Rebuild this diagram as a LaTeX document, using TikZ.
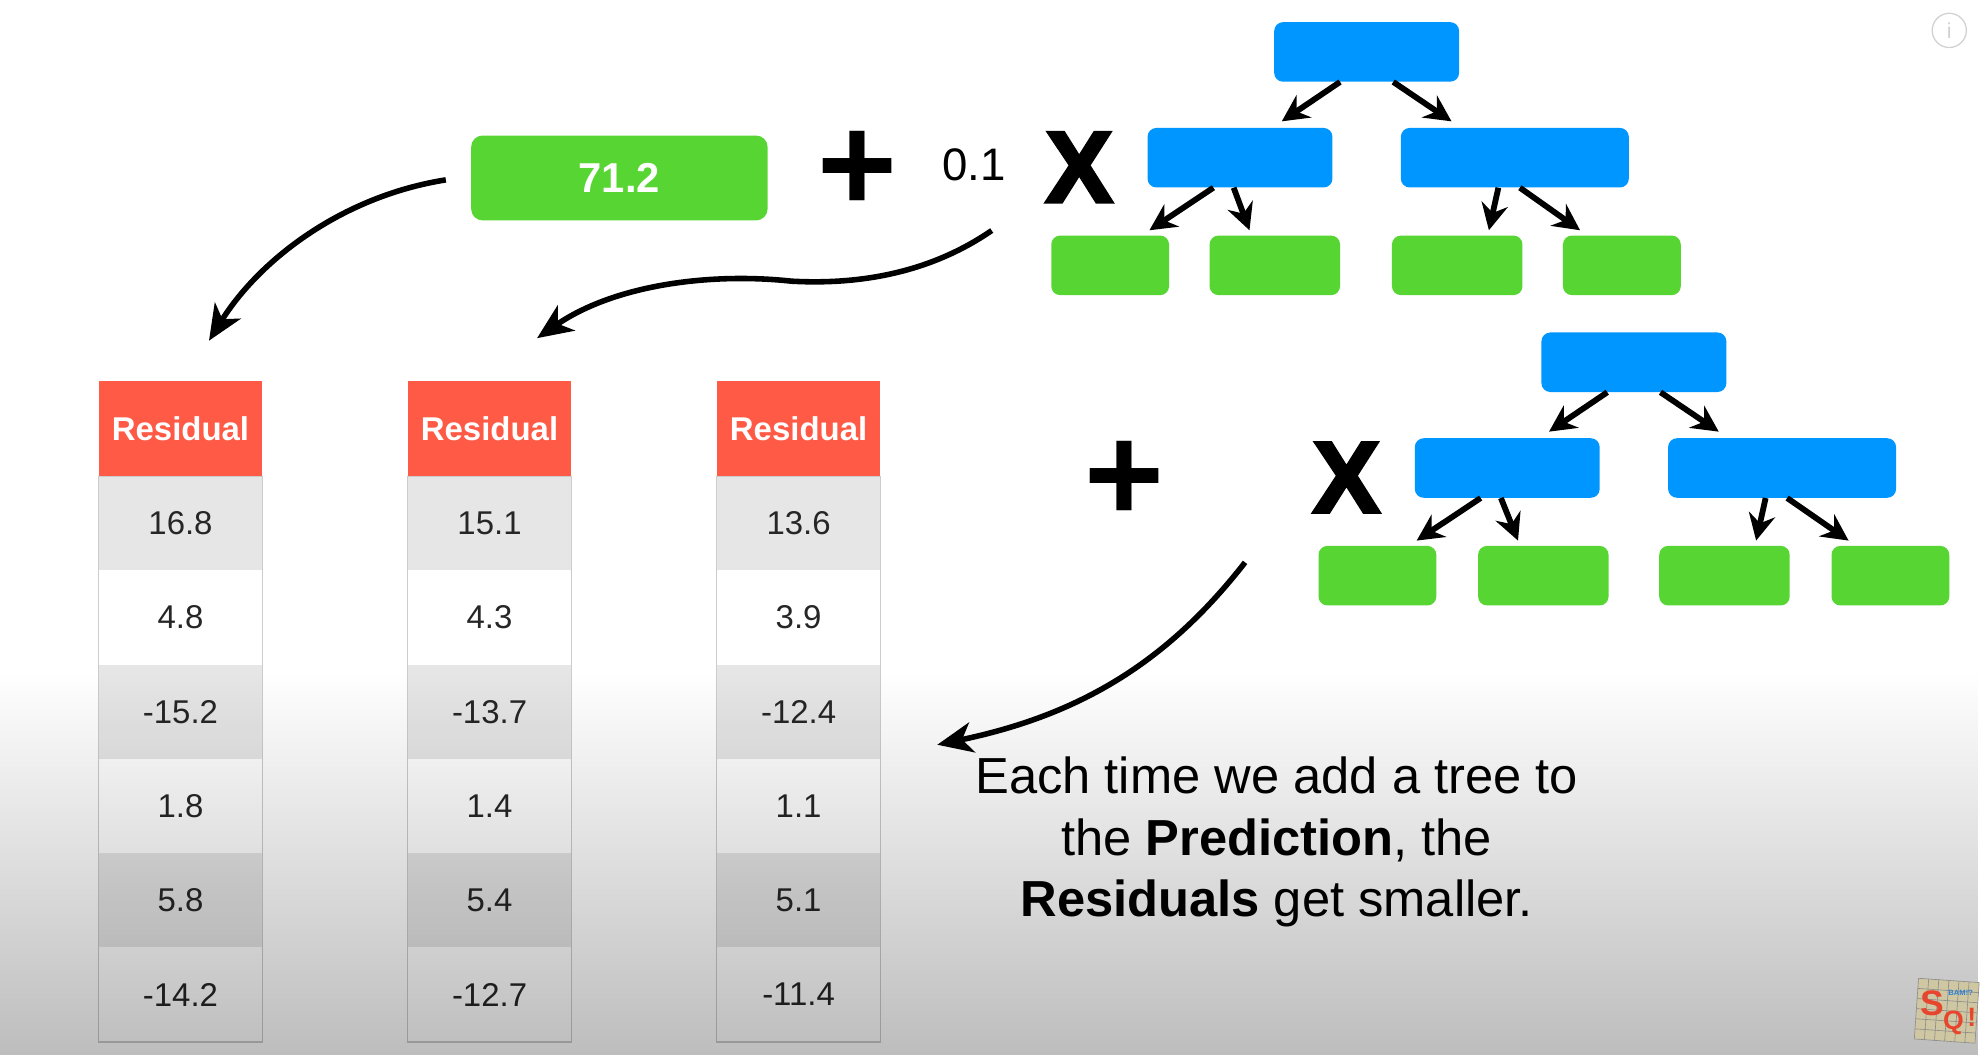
\documentclass[tikz,border=0pt]{standalone}
\usepackage{fontspec}
\setmainfont{Liberation Sans}
\newfontfamily\heavyfont[FakeBold=3]{Liberation Sans Bold}
\usetikzlibrary{arrows.meta,fadings}
\definecolor{treeblue}{HTML}{0096FF}
\definecolor{leafgreen}{HTML}{57D633}
\definecolor{headred}{HTML}{FF5A45}
\definecolor{rowgray}{HTML}{E6E6E6}
\definecolor{logotan}{HTML}{CFC7A2}
\definecolor{logored}{HTML}{E8452E}
\definecolor{logoblue}{HTML}{2A7FD6}
\tikzfading[name=fadebottom, top color=transparent!100, bottom color=transparent!74]
\begin{document}
\begin{tikzpicture}
  [x=1pt, y=-1pt,
   bluebox/.style={fill=treeblue, rounded corners=7pt, minimum height=47pt, inner sep=0pt},
   greenbox/.style={fill=leafgreen, rounded corners=7pt, minimum height=47pt, inner sep=0pt},
   treearrow/.style={-{Stealth[length=21pt,width=21pt,inset=7pt]}, line width=4.6pt},
   bigarrow/.style={-{Stealth[length=28pt,width=24pt,inset=8pt]}, line width=4.4pt},
   headcell/.style={fill=headred, text=white, minimum width=129pt, minimum height=75pt, inner sep=0pt,
                    font=\fontsize{26}{30}\selectfont\bfseries},
   cell/.style={minimum width=129pt, minimum height=74.4pt, inner sep=0pt, text=black!85,
                font=\fontsize{26}{30}\selectfont},
   plussign/.style={inner sep=0pt, font=\fontsize{108}{108}\selectfont\bfseries},
   timessign/.style={inner sep=0pt, font=\fontsize{80}{80}\heavyfont}]
  \useasboundingbox (0,0) rectangle (1568,833);
  \fill[white] (0,0) rectangle (1568,833);

  % first tree
  \node[bluebox, minimum width=146pt] (rootA) at (1079,41) {};
  \node[bluebox, minimum width=146pt] (leftA) at (979,124.5) {};
  \node[bluebox, minimum width=180pt] (rightA) at (1196,124.5) {};
  \node[greenbox, minimum width=93pt] (leafAa) at (876.5,209.5) {};
  \node[greenbox, minimum width=103pt] (leafAb) at (1006.5,209.5) {};
  \node[greenbox, minimum width=103pt] (leafAc) at (1150.5,209.5) {};
  \node[greenbox, minimum width=93pt] (leafAd) at (1280.5,209.5) {};
  \draw[treearrow] ([xshift=-21pt]rootA.south) -- ([xshift=33pt,yshift=5pt]leftA.north);
  \draw[treearrow] ([xshift=21pt]rootA.south) -- ([xshift=-50pt,yshift=5pt]rightA.north);
  \draw[treearrow] ([xshift=-21pt]leftA.south) -- ([xshift=31pt,yshift=4pt]leafAa.north);
  \draw[treearrow] ([xshift=-5pt]leftA.south) -- ([xshift=-20pt,yshift=4pt]leafAb.north);
  \draw[treearrow] ([xshift=-13pt]rightA.south) -- ([xshift=25pt,yshift=4pt]leafAc.north);
  \draw[treearrow] ([xshift=4pt]rightA.south) -- ([xshift=-33pt,yshift=4pt]leafAd.north);

  % second tree
  \node[bluebox, minimum width=146pt] (rootB) at (1290,286) {};
  \node[bluebox, minimum width=146pt] (leftB) at (1190,369.5) {};
  \node[bluebox, minimum width=180pt] (rightB) at (1407,369.5) {};
  \node[greenbox, minimum width=93pt] (leafBa) at (1087.5,454.5) {};
  \node[greenbox, minimum width=103pt] (leafBb) at (1218.5,454.5) {};
  \node[greenbox, minimum width=103pt] (leafBc) at (1361.5,454.5) {};
  \node[greenbox, minimum width=93pt] (leafBd) at (1492.5,454.5) {};
  \draw[treearrow] ([xshift=-21pt]rootB.south) -- ([xshift=33pt,yshift=5pt]leftB.north);
  \draw[treearrow] ([xshift=21pt]rootB.south) -- ([xshift=-50pt,yshift=5pt]rightB.north);
  \draw[treearrow] ([xshift=-21pt]leftB.south) -- ([xshift=31pt,yshift=4pt]leafBa.north);
  \draw[treearrow] ([xshift=-5pt]leftB.south) -- ([xshift=-20pt,yshift=4pt]leafBb.north);
  \draw[treearrow] ([xshift=-13pt]rightB.south) -- ([xshift=25pt,yshift=4pt]leafBc.north);
  \draw[treearrow] ([xshift=4pt]rightB.south) -- ([xshift=-33pt,yshift=4pt]leafBd.north);

  % prediction
  \node[fill=leafgreen, rounded corners=9pt, minimum width=234pt, minimum height=67pt, inner sep=0pt,
        text=white, font=\fontsize{33}{36}\selectfont\bfseries] (start) at (489,140.5) {71.2};
  \node[plussign] (plusA) at (677,135) {+};
  \node[inner sep=0pt, font=\fontsize{36}{40}\selectfont] (rate) at (769,130) {0.1};
  \node[timessign] (timesA) at (852,132) {X};
  \node[plussign] (plusB) at (888,380) {+};
  \node[timessign] (timesB) at (1063,377) {X};

  % tables
  \node[headcell] (headA) at (142.5,338.5) {Residual};
  \node[headcell] (headB) at (386.5,338.5) {Residual};
  \node[headcell] (headC) at (630.5,338.5) {Residual};
  \foreach \n/\y/\rowfill/\va/\vb/\vc in
    {1/413.2/rowgray/16.8/15.1/13.6, 2/487.6/white/4.8/4.3/3.9, 3/562/rowgray/-15.2/-13.7/-12.4,
     4/636.4/white/1.8/1.4/1.1, 5/710.8/rowgray/5.8/5.4/5.1, 6/785.2/white/-14.2/-12.7/-11.4}{
    \node[cell, fill=\rowfill] (a\n) at (142.5,\y) {\va};
    \node[cell, fill=\rowfill] (b\n) at (386.5,\y) {\vb};
    \node[cell, fill=\rowfill] (c\n) at (630.5,\y) {\vc};
  }
  \draw[black!20, line width=1pt] (headA.south west) rectangle (a6.south east);
  \draw[black!20, line width=1pt] (headB.south west) rectangle (b6.south east);
  \draw[black!20, line width=1pt] (headC.south west) rectangle (c6.south east);

  % curved arrows
  \coordinate (fromStart) at (352,142);
  \coordinate (toA) at (165,269);
  \coordinate (fromRate) at (783,182);
  \coordinate (bendRate) at (625,222);
  \coordinate (toB) at (424,267);
  \coordinate (fromTree) at (983,444);
  \coordinate (toC) at (740,588);
  \draw[bigarrow] (fromStart) .. controls (270,155) and (205,205) .. (toA);
  \draw[bigarrow] (fromRate) .. controls (735,215) and (680,225) .. (bendRate)
                  .. controls (560,215) and (485,225) .. (toB);
  \draw[bigarrow] (fromTree) .. controls (920,525) and (850,565) .. (toC);

  \node[align=center, inner sep=0pt, font=\fontsize{40}{48.5}\selectfont] (note) at (1008,665)
    {Each time we add a tree to\\the \textbf{Prediction}, the\\\textbf{Residuals} get smaller.};

  % video overlay
  \fill[black, path fading=fadebottom] (0,530) rectangle (1568,833);

  % info icon
  \node[circle, draw=black!18, line width=1pt, minimum size=27pt, inner sep=0pt, text=black!18,
        font=\fontsize{17}{17}\selectfont] (info) at (1539,24) {i};

  % logo
  \begin{scope}[shift={(1537,798)}, rotate=-4]
    \fill[logotan] (-24,-24) rectangle (24,24);
    \foreach \g in {-24,-16,...,24}{
      \draw[black!45, line width=.5pt] (\g,-24) -- (\g,24);
      \draw[black!45, line width=.5pt] (-24,\g) -- (24,\g);
    }
    \node[inner sep=0pt, text=logored, font=\fontsize{28}{28}\selectfont\bfseries] (logoS) at (-12,-5) {S};
    \node[inner sep=0pt, text=logored, font=\fontsize{21}{21}\selectfont\bfseries] (logoQ) at (6,9) {Q};
    \node[inner sep=0pt, text=logored, font=\fontsize{21}{21}\selectfont\bfseries] (logoMark) at (20,4) {!};
    \node[inner sep=0pt, text=logoblue, font=\fontsize{6}{6}\selectfont\bfseries] (logotag) at (10,-15) {BAM!?};
  \end{scope}
\end{tikzpicture}
\end{document}
